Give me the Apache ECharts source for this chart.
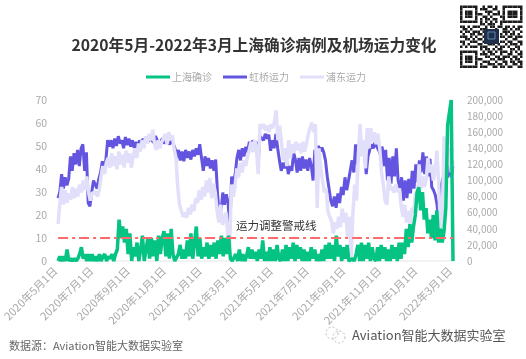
<!DOCTYPE html>
<html><head><meta charset="utf-8">
<style>html,body{margin:0;padding:0;background:#fff}#c{width:526px;height:359px}</style>
<script src="https://cdn.jsdelivr.net/npm/echarts@6/dist/echarts.min.js"></script>
</head><body><div id="c"></div>
<script>
const tickDates=['2020-05-01','2020-07-01','2020-09-01','2020-11-01','2021-01-01','2021-03-01','2021-05-01','2021-07-01','2021-09-01','2021-11-01','2022-01-01','2022-03-01'];
// 虹桥运力 (seats), in thousands
const hongqiao=[78,86,108,90,104,94,102,130,112,134,
120,138,118,140,145,112,135,72,68,85,
100,95,90,102,110,124,112,126,150,142,
150,140,152,143,155,146,150,140,154,144,152,142,150,140,148,138,150,145,152,148,
153,148,156,150,147,155,150,146,148,152,146,150,148,145,150,146,140,128,138,125,
136,124,138,128,136,126,138,130,140,132,145,128,112,130,118,128,115,125,112,126,
85,55,62,85,70,83,72,40,105,95,
108,128,138,125,140,130,142,135,148,140,150,145,148,123,155,
156,150,158,152,157,137,150,140,158,140,
125,112,122,115,125,108,118,112,135,126,
110,128,112,130,115,126,112,128,118,100,
138,133,143,136,141,135,125,105,90,75,
68,80,66,84,72,92,82,104,88,100,
102,125,110,145,120,146,133,145,135,108,
130,138,145,140,148,142,138,132,142,118,138,100,128,96,130,105,
140,100,90,104,75,100,78,102,84,112,90,120,98,125,110,135,108,130,105,127,
92,88,82,70,46,90,100,108,102,105,125,104,118];
// 浦东运力 (seats), in thousands
const pudong=[46,72,92,70,88,72,84,76,92,78,90,80,95,85,100,88,105,86,75,84,
82,86,80,88,104,118,108,122,128,116,
134,118,130,114,136,120,132,116,137,122,134,116,130,140,128,146,136,150,140,155,
146,158,150,163,145,138,150,140,148,152,158,145,160,150,156,138,128,90,70,62,
55,60,54,66,58,70,62,78,72,88,76,92,80,100,85,103,78,96,85,62,
48,70,45,43,60,30,18,95,80,92,
115,104,122,110,125,118,130,138,148,135,150,140,108,170,165,
170,162,168,160,170,165,172,187,150,168,
148,125,140,118,150,128,145,134,148,138,146,134,148,136,146,
157,165,172,160,170,66,140,115,100,85,
90,62,55,50,34,48,40,55,42,65,48,60,30,55,4,
60,95,75,130,170,130,150,115,165,140,
165,148,160,145,158,140,110,95,75,70,105,88,92,85,95,86,90,
68,55,70,48,62,45,66,60,85,72,120,90,105,92,100,128,110,120,100,112,
137,95,40,52,155,100,130,140,110,125];
// 上海确诊 (cases)
const shanghaiCases=[0,2,0,2,0,5,0,1,0,1,0,1,3,6,1,3,0,3,0,3,0,2,0,3,0,2,3,0,2,1,
3,0,3,5,18,10,15,8,14,3,12,0,6,2,8,0,5,11,0,0,
10,1,10,2,9,0,11,3,10,13,2,12,1,14,3,0,0,3,7,1,
5,1,9,2,12,1,8,15,2,10,1,6,2,8,1,7,2,8,1,9,
3,11,2,10,3,11,1,0,0,3,0,5,0,3,0,2,6,1,5,1,
4,0,5,1,9,0,4,0,6,0,5,0,7,1,0,5,0,7,0,6,
1,8,0,7,1,6,0,5,0,4,0,6,1,5,0,3,0,5,0,7,
1,8,1,7,0,11,2,7,0,6,1,7,0,0,1,0,3,7,0,8,
0,7,1,8,0,6,1,0,6,0,7,1,6,0,5,0,7,1,6,0,
8,1,8,3,14,6,16,8,15,20,30,32,22,30,18,23,12,18,10,20,
9,22,8,14,8,13,23,59,59,70,0];

const dayOf=s=>(Date.parse(s+'T00:00:00Z')-Date.parse(tickDates[0]+'T00:00:00Z'))/86400000;
const lastDay=dayOf(tickDates[tickDates.length-1]);
const pts=(arr,mul)=>arr.map((v,i)=>[i*lastDay/(arr.length-1),v*mul]);
const dayLabel=v=>{const d=new Date(Date.parse(tickDates[0]+'T00:00:00Z')+v*86400000);return d.getUTCFullYear()+'年'+(d.getUTCMonth()+1)+'月'+d.getUTCDate()+'日';};

const qr=[
'1111111001011010011111111',
'1000001011100110010000001',
'1011101000111001010111101',
'1011101110010111010111101',
'1011101001101000110111101',
'1000001010110110010000001',
'1111111010101010111111111',
'0000000011011100100000000',
'1101011100101101101101011',
'0110100011100010011010110',
'1011011101000000011101001',
'0100110110000000101011010',
'1110101001000000110110111',
'0011010110000000001001100',
'1100111001000000110110011',
'0101000110011101001011101',
'1010111011100010110100110',
'0000000010110101100011010',
'1111111001011010111010101',
'1000001011101100100110011',
'1011101000110011011101101',
'1011101110001101110010110',
'1011101001110010011011011',
'1000001010011101101001101',
'1111111011100110110110011'];
const qrChildren=[];
qr.forEach((r,y)=>[...r].forEach((c,x)=>{if(c==='1')qrChildren.push({type:'rect',shape:{x:460+x*2.5,y:5.5+y*2.5,width:2.5,height:2.5},style:{fill:'#1c1c1c'}});}));
qrChildren.push({type:'rect',shape:{x:484,y:29,width:15,height:15},style:{fill:'#1f2f4a'}});
qrChildren.push({type:'rect',shape:{x:488,y:32,width:7,height:7},style:{fill:'none',stroke:'#5f86b0',lineWidth:1}});

const font='"Noto Sans CJK SC","Noto Sans",sans-serif';
const chart=echarts.init(document.getElementById('c'),null,{renderer:'canvas'});
chart.setOption({
 animation:false,backgroundColor:'#fff',
 textStyle:{fontFamily:font},
 title:[
  {text:'2020年5月-2022年3月上海确诊病例及机场运力变化',left:249,top:32,textAlign:'center',textStyle:{fontSize:15.7,fontWeight:'bold',color:'#333',fontFamily:font}},
  {text:'运力调整警戒线',left:231,top:215,textStyle:{fontSize:11.5,fontWeight:'normal',color:'#333',fontFamily:font}},
  {text:'数据源：Aviation智能大数据实验室',left:4,top:335,textStyle:{fontSize:11,fontWeight:'normal',color:'#666',fontFamily:font}},
  {text:'Aviation智能大数据实验室',left:347,top:324,textStyle:{fontSize:13,fontWeight:'normal',color:'#555',fontFamily:font}}
 ],
 legend:{data:['上海确诊','虹桥运力','浦东运力'],left:141,top:67,icon:'rect',itemWidth:24,itemHeight:3,itemGap:11,textStyle:{color:'#aaa',fontSize:10,fontFamily:font,padding:[0,0,0,-3]}},
 grid:{left:57,right:73,top:100,bottom:98,containLabel:false},
 xAxis:{type:'value',min:0,max:lastDay,
  axisLine:{lineStyle:{color:'#eeeeee',width:1.5}},axisTick:{show:false},splitLine:{show:false},
  axisLabel:{customValues:tickDates.map(dayOf),rotate:45,color:'#aaa',fontSize:11,margin:5,padding:[0,4,0,0],hideOverlap:false,formatter:dayLabel}},
 yAxis:[
  {type:'value',min:0,max:70,interval:10,axisLine:{show:false},axisTick:{show:false},splitLine:{show:false},axisLabel:{color:'#aaa',fontSize:10.5,margin:11}},
  {type:'value',min:0,max:200000,interval:20000,position:'right',axisLine:{show:false},axisTick:{show:false},splitLine:{show:false},axisLabel:{color:'#aaa',fontSize:10,margin:14}}
 ],
 series:[
  {name:'虹桥运力',type:'line',yAxisIndex:1,z:2,showSymbol:false,data:pts(hongqiao,1000),lineStyle:{color:'#6355e0',width:3},itemStyle:{color:'#6355e0'}},
  {name:'浦东运力',type:'line',yAxisIndex:1,z:3,showSymbol:false,data:pts(pudong,1000),lineStyle:{color:'#e2dffa',width:3.5},itemStyle:{color:'#e2dffa'}},
  {name:'上海确诊',type:'line',yAxisIndex:0,z:4,showSymbol:false,data:pts(shanghaiCases,1),lineStyle:{color:'#05c383',width:3.5},itemStyle:{color:'#05c383'},
   markLine:{silent:true,symbol:'none',label:{show:false},lineStyle:{color:'#ff6b6b',type:[10,4,3,4],width:2},data:[{yAxis:10}],z:6}}
 ],
 graphic:[
  {type:'group',children:qrChildren},
  {type:'circle',shape:{cx:332,cy:333,r:6},style:{fill:'none',stroke:'#bbb',lineWidth:1,lineDash:[2,2]}},
  {type:'circle',shape:{cx:339,cy:337,r:6},style:{fill:'none',stroke:'#bbb',lineWidth:1,lineDash:[2,2]}}
 ]
});
</script></body></html>
